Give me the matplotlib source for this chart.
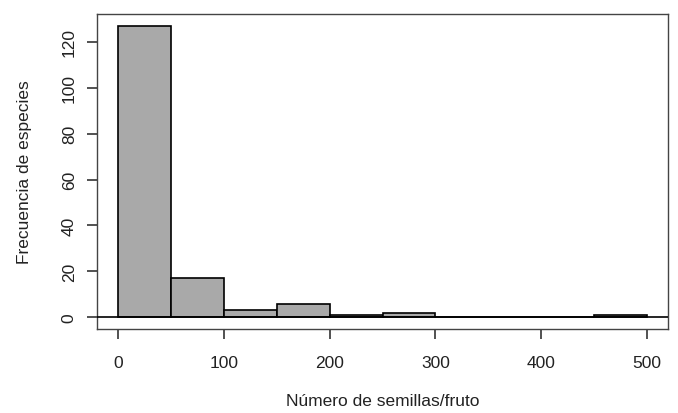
import matplotlib
matplotlib.use("Agg")
import matplotlib.pyplot as plt
import numpy as np

bin_edges = [0, 50, 100, 150, 200, 250, 300, 350, 400, 450, 500]
counts = [127, 17, 3, 6, 1, 2, 0, 0, 0, 1]
x_ticks = [0, 100, 200, 300, 400, 500]
y_ticks = [0, 20, 40, 60, 80, 100, 120]

plt.rcParams['font.family'] = ['Liberation Sans', 'DejaVu Sans']

fig = plt.figure(figsize=(6.78, 4.14), dpi=100)
ax_l, ax_r, ax_t, ax_b = 97, 668, 15, 330
ax = fig.add_axes([ax_l/678, 1-ax_b/414, (ax_r-ax_l)/678, (ax_b-ax_t)/414])

left = np.array(bin_edges[:-1])
widths = np.diff(bin_edges)
ax.bar(left, counts, width=widths, align='edge', color='#a9a9a9',
       edgecolor='black', linewidth=1.2, zorder=2)
ax.axhline(0, color='black', linewidth=1.2, zorder=3)

ax.set_xlim(-20, 520)
ax.set_ylim(-0.04*127, 127*1.04)
ax.set_xticks(x_ticks)
ax.set_yticks(y_ticks)
ax.tick_params(axis='both', direction='out', length=7.5, width=1.2, labelsize=12.5,
               color='#333333', labelcolor='#222222')
ax.tick_params(axis='x', pad=11)
ax.tick_params(axis='y', pad=7)
for lab in ax.get_yticklabels():
    lab.set_rotation(90)
    lab.set_va('center')
for s in ax.spines.values():
    s.set_color('#444444')
    s.set_linewidth(1.0)

ax.set_xlabel('Número de semillas/fruto', fontsize=12.5, color='#222222', va='center')
ax.set_ylabel('Frecuencia de especies', fontsize=12.5, color='#222222', va='center')
ax.xaxis.set_label_coords(0.5, (ax_b-402)/(ax_b-ax_t))
ax.yaxis.set_label_coords((25-ax_l)/(ax_r-ax_l), 0.5)

fig.savefig('out.png', dpi=100)
